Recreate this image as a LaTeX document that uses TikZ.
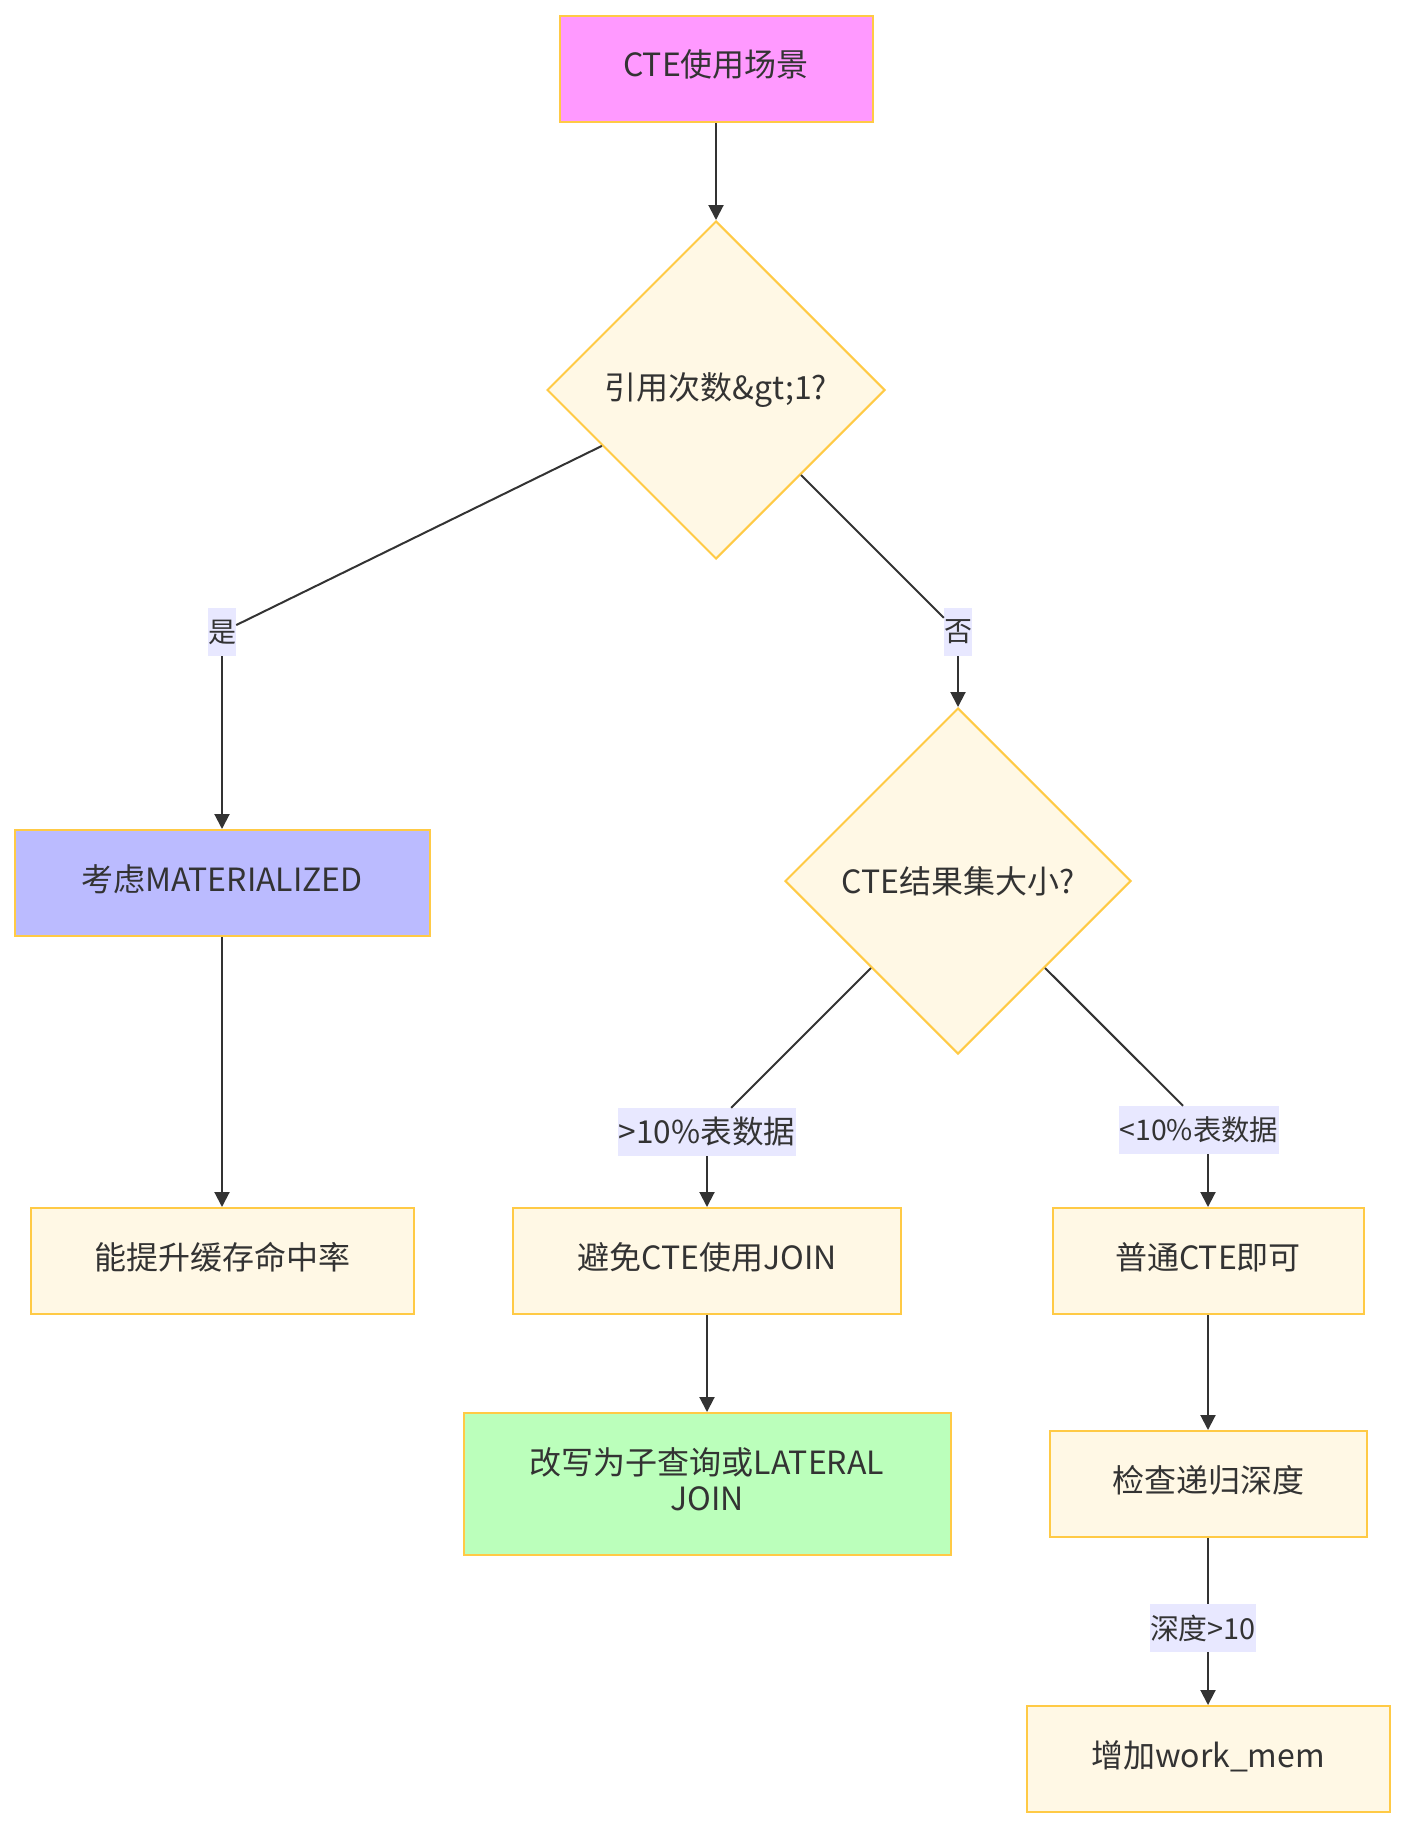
\documentclass[tikz,border=0pt]{standalone}
\usepackage{fontspec}
\setmainfont{Noto Sans CJK SC}
\usetikzlibrary{shapes.geometric,arrows.meta}
\definecolor{nfill}{HTML}{FFF8E5}
\definecolor{nstroke}{HTML}{FFCA45}
\definecolor{tcol}{HTML}{333333}
\definecolor{ecol}{HTML}{333333}
\definecolor{lfill}{HTML}{E8E8FF}
\definecolor{pinkfill}{HTML}{FF99FF}
\definecolor{bluefill}{HTML}{BBBBFF}
\definecolor{greenfill}{HTML}{BBFFBB}
\begin{document}
\begin{tikzpicture}[x=1pt,y=-1pt,
  box/.style={rectangle, draw=nstroke, fill=nfill, line width=2pt, text=tcol,
    font=\fontsize{32}{36}\selectfont, inner sep=0pt, align=center,
    text height=23pt, text depth=7pt},
  dia/.style={diamond, shape aspect=1, draw=nstroke, fill=nfill, line width=2pt, text=tcol,
    font=\fontsize{32}{36}\selectfont, inner sep=0pt, align=center},
  lbl/.style={rectangle, fill=lfill, text=tcol, font=\fontsize{31.6}{36}\selectfont,
    inner xsep=0pt, inner ysep=0pt, minimum height=48pt},
  ln/.style={draw=ecol, line width=2pt},
  arr/.style={draw=ecol, line width=2pt, -{Triangle[length=15pt,width=15pt]}}
]
\useasboundingbox (0,0) rectangle (1406,1828);

\node[box, fill=pinkfill, minimum width=313pt, minimum height=106pt] (A) at (716,69) {CTE使用场景};
\node[dia, minimum width=338pt, minimum height=338pt] (B) at (716,390) {引用次数\&gt;1?};
\node[lbl, minimum width=28pt, font=\fontsize{28}{32}\selectfont] (lyes) at (222,632) {\makebox[0pt]{是}};
\node[lbl, minimum width=28pt, font=\fontsize{28}{32}\selectfont] (lno) at (958,632) {\makebox[0pt]{否}};
\node[box, fill=bluefill, minimum width=415pt, minimum height=106pt] (C) at (222,883) {考虑MATERIALIZED};
\node[box, minimum width=383pt, minimum height=106pt] (D) at (222,1261) {能提升缓存命中率};
\node[dia, minimum width=346pt, minimum height=346pt] (E) at (958,881) {CTE结果集大小?};
\node[lbl, minimum width=178pt] (l1) at (707,1132) {>10\%表数据};
\node[lbl, minimum width=160pt, font=\fontsize{28.4}{32}\selectfont] (l2) at (1199,1130) {<10\%表数据};
\node[box, minimum width=388pt, minimum height=106pt] (F) at (707,1261) {避免CTE使用JOIN};
\node[box, minimum width=311pt, minimum height=106pt] (G) at (1208,1261) {普通CTE即可};
\node[box, fill=greenfill, minimum width=487pt, minimum height=142pt, text height=58pt, text depth=6pt] (H) at (707,1484) {\parbox[b]{480pt}{\centering\fontsize{32}{36}\selectfont 改写为子查询或LATERAL\\JOIN}};
\node[box, minimum width=317pt, minimum height=106pt] (I) at (1208,1484) {检查递归深度};
\node[lbl, minimum width=106pt, font=\fontsize{28.9}{32}\selectfont] (l3) at (1203,1628) {深度>10};
\node[box, minimum width=363pt, minimum height=106pt] (J) at (1208,1759) {增加work\_mem};

\draw[arr] (A) -- (B);
\draw[ln] (B) -- (lyes);
\draw[arr] (lyes) -- (C);
\draw[ln] (B) -- (lno);
\draw[arr] (lno) -- (E);
\draw[arr] (C) -- (D);
\draw[ln] (E) -- (l1);
\draw[arr] (l1) -- (F);
\draw[ln] (E) -- ([xshift=-16pt]l2.north);
\draw[arr] (l2.south -| G.north) -- (G.north);
\draw[arr] (F) -- (H);
\draw[arr] (G) -- (I);
\draw[ln] (I.south) -- (l3.north -| I.south);
\draw[arr] (l3.south -| J.north) -- (J.north);
\end{tikzpicture}
\end{document}
